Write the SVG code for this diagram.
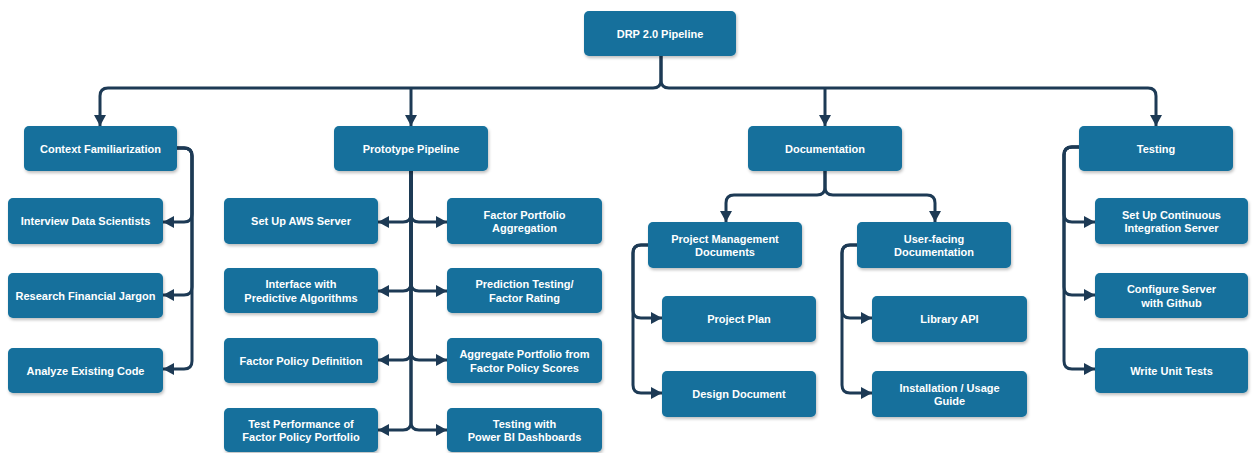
<svg xmlns="http://www.w3.org/2000/svg" width="1252" height="453" viewBox="0 0 1252 453">
<defs>
<style>
.box{fill:#13709c;filter:url(#sh);}
.t{font-family:"Liberation Sans",Arial,sans-serif;font-weight:bold;font-size:11px;fill:#ffffff;text-anchor:middle;dominant-baseline:central;}
.c{fill:none;stroke:#1d3a55;stroke-width:3;marker-end:url(#ah);}
.n{fill:none;stroke:#1d3a55;stroke-width:3;}
</style>
<filter id="sh" x="-10%" y="-20%" width="120%" height="150%">
<feDropShadow dx="1" dy="2" stdDeviation="1.5" flood-color="#000" flood-opacity="0.25"/>
</filter>
<marker id="ah" markerUnits="userSpaceOnUse" markerWidth="11" markerHeight="12" refX="11" refY="6" orient="auto">
<path d="M0,0 L11,6 L0,12 z" fill="#1d3a55"/>
</marker>
</defs>
<rect width="1252" height="453" fill="#ffffff"/>
<g id="connectors">
<path class="c" d="M661,56 V80 Q661,88 653,88 H108 Q100,88 100,96 V126"/>
<path class="c" d="M661,56 V80 Q661,88 669,88 H1148 Q1156,88 1156,96 V126"/>
<path class="c" d="M411,88 V126"/>
<path class="c" d="M825,88 V126"/>
<path class="c" d="M177,148 H184 Q192,148 192,156 V214 Q192,222 184,222 H163"/>
<path class="c" d="M177,148 H184 Q192,148 192,156 V287 Q192,295 184,295 H163"/>
<path class="c" d="M177,148 H184 Q192,148 192,156 V361 Q192,369 184,369 H163"/>
<path class="c" d="M411,171 V214 Q411,222 403,222 H378"/>
<path class="c" d="M411,171 V214 Q411,222 419,222 H447"/>
<path class="c" d="M411,171 V283 Q411,291 403,291 H378"/>
<path class="c" d="M411,171 V283 Q411,291 419,291 H447"/>
<path class="c" d="M411,171 V352 Q411,360 403,360 H378"/>
<path class="c" d="M411,171 V352 Q411,360 419,360 H447"/>
<path class="c" d="M411,171 V422 Q411,430 403,430 H378"/>
<path class="c" d="M411,171 V422 Q411,430 419,430 H447"/>
<path class="c" d="M825,171 V187 Q825,195 817,195 H734 Q726,195 726,203 V222"/>
<path class="c" d="M825,171 V187 Q825,195 833,195 H927 Q935,195 935,203 V222"/>
<path class="c" d="M648,245 H641 Q633,245 633,253 V310 Q633,318 641,318 H662"/>
<path class="c" d="M648,245 H641 Q633,245 633,253 V385 Q633,393 641,393 H662"/>
<path class="c" d="M857,245 H850 Q842,245 842,253 V310 Q842,318 850,318 H872"/>
<path class="c" d="M857,245 H850 Q842,245 842,253 V385 Q842,393 850,393 H872"/>
<path class="c" d="M1079,147 H1072 Q1064,147 1064,155 V214 Q1064,222 1072,222 H1095"/>
<path class="c" d="M1079,147 H1072 Q1064,147 1064,155 V287 Q1064,295 1072,295 H1095"/>
<path class="c" d="M1079,147 H1072 Q1064,147 1064,155 V361 Q1064,369 1072,369 H1095"/>
</g>
<g id="root"><rect class="box" x="584" y="11" width="152" height="45" rx="5"/><text class="t" x="660" y="33.5">DRP 2.0 Pipeline</text></g>
<g id="context"><rect class="box" x="24" y="126" width="153" height="45" rx="5"/><text class="t" x="100.5" y="148.5">Context Familiarization</text></g>
<g id="prototype"><rect class="box" x="334" y="126" width="154" height="45" rx="5"/><text class="t" x="411" y="148.5">Prototype Pipeline</text></g>
<g id="documentation"><rect class="box" x="748" y="126" width="154" height="45" rx="5"/><text class="t" x="825" y="148.5">Documentation</text></g>
<g id="testing"><rect class="box" x="1079" y="126" width="154" height="45" rx="5"/><text class="t" x="1156" y="148.5">Testing</text></g>
<g id="interview"><rect class="box" x="8" y="198" width="155" height="46" rx="5"/><text class="t" x="85.5" y="221">Interview Data Scientists</text></g>
<g id="research"><rect class="box" x="8" y="273" width="155" height="45" rx="5"/><text class="t" x="85.5" y="295.5">Research Financial Jargon</text></g>
<g id="analyze"><rect class="box" x="8" y="348" width="155" height="45" rx="5"/><text class="t" x="85.5" y="370.5">Analyze Existing Code</text></g>
<g id="aws"><rect class="box" x="224" y="198" width="154" height="46" rx="5"/><text class="t" x="301" y="221">Set Up AWS Server</text></g>
<g id="interface"><rect class="box" x="224" y="268" width="154" height="45" rx="5"/><text class="t" x="301" y="284">Interface with</text><text class="t" x="301" y="297.5">Predictive Algorithms</text></g>
<g id="policydef"><rect class="box" x="224" y="338" width="154" height="45" rx="5"/><text class="t" x="301" y="360.5">Factor Policy Definition</text></g>
<g id="testperf"><rect class="box" x="224" y="408" width="154" height="44" rx="5"/><text class="t" x="301" y="423.5">Test Performance of</text><text class="t" x="301" y="437">Factor Policy Portfolio</text></g>
<g id="fpa"><rect class="box" x="447" y="198" width="155" height="46" rx="5"/><text class="t" x="524.5" y="214.5">Factor Portfolio</text><text class="t" x="524.5" y="228">Aggregation</text></g>
<g id="prediction"><rect class="box" x="447" y="268" width="155" height="45" rx="5"/><text class="t" x="524.5" y="284">Prediction Testing/</text><text class="t" x="524.5" y="297.5">Factor Rating</text></g>
<g id="aggregate"><rect class="box" x="447" y="338" width="155" height="45" rx="5"/><text class="t" x="524.5" y="354">Aggregate Portfolio from</text><text class="t" x="524.5" y="367.5">Factor Policy Scores</text></g>
<g id="powerbi"><rect class="box" x="447" y="408" width="155" height="44" rx="5"/><text class="t" x="524.5" y="423.5">Testing with</text><text class="t" x="524.5" y="437">Power BI Dashboards</text></g>
<g id="pmd"><rect class="box" x="648" y="222" width="154" height="46" rx="5"/><text class="t" x="725" y="238.5">Project Management</text><text class="t" x="725" y="252">Documents</text></g>
<g id="ufd"><rect class="box" x="857" y="222" width="154" height="46" rx="5"/><text class="t" x="934" y="238.5">User-facing</text><text class="t" x="934" y="252">Documentation</text></g>
<g id="plan"><rect class="box" x="662" y="296" width="154" height="46" rx="5"/><text class="t" x="739" y="319">Project Plan</text></g>
<g id="design"><rect class="box" x="662" y="371" width="154" height="46" rx="5"/><text class="t" x="739" y="394">Design Document</text></g>
<g id="library"><rect class="box" x="872" y="296" width="155" height="46" rx="5"/><text class="t" x="949.5" y="319">Library API</text></g>
<g id="install"><rect class="box" x="872" y="371" width="155" height="46" rx="5"/><text class="t" x="949.5" y="387.5">Installation / Usage</text><text class="t" x="949.5" y="401">Guide</text></g>
<g id="ci"><rect class="box" x="1095" y="198" width="153" height="46" rx="5"/><text class="t" x="1171.5" y="214.5">Set Up Continuous</text><text class="t" x="1171.5" y="228">Integration Server</text></g>
<g id="configure"><rect class="box" x="1095" y="273" width="153" height="45" rx="5"/><text class="t" x="1171.5" y="289">Configure Server</text><text class="t" x="1171.5" y="302.5">with Github</text></g>
<g id="unittests"><rect class="box" x="1095" y="348" width="153" height="45" rx="5"/><text class="t" x="1171.5" y="370.5">Write Unit Tests</text></g>
</svg>
